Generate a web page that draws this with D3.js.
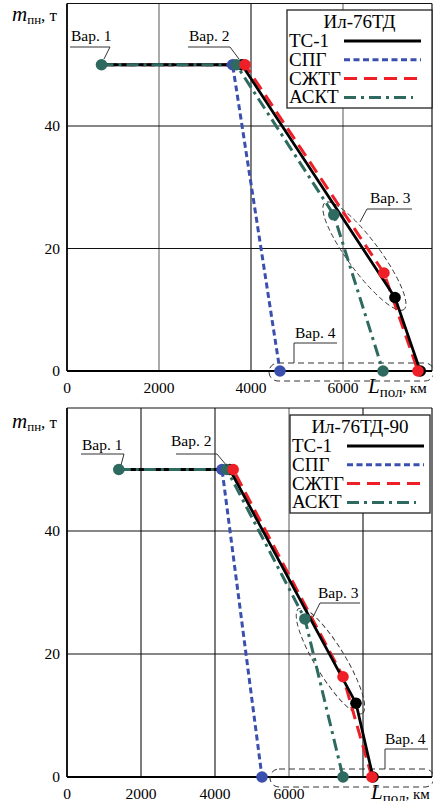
<!DOCTYPE html>
<html lang="ru">
<head>
<meta charset="UTF-8">
<title>Ил-76ТД / Ил-76ТД-90</title>
<script src="https://d3js.org/d3.v7.min.js"></script>
<style>
    body { margin: 0; background: #fff; }
    svg { display: block; }
    svg text { font-family: "Liberation Serif", "Times New Roman", Times, serif; }
</style>
</head>
<body>
<div id="chart"></div>
<script>
// legend names and ticks
const seriesNames = ["ТС-1", "СПГ", "СЖТГ", "АСКТ"];
const yTickValues = [0, 20, 40];
const xTickValues = [0, 2000, 4000, 6000];

// Ил-76ТД: [дальность, км ; нагрузка, т] for Вар. 1..4
const td_tc1   = [[750, 50], [3800, 50], [7130, 12], [7680, 0]];
const td_spg   = [[750, 50], [3600, 50], [4630, 0]];
const td_szhtg = [[750, 50], [3870, 50], [6890, 16], [7630, 0]];
const td_askt  = [[750, 50], [3680, 50], [5800, 25.5], [6870, 0]];

// Ил-76ТД-90
const td90_tc1   = [[1400, 50], [4400, 50], [7810, 12], [8270, 0]];
const td90_spg   = [[1400, 50], [4190, 50], [5270, 0]];
const td90_szhtg = [[1400, 50], [4490, 50], [7460, 16.3], [8240, 0]];
const td90_askt  = [[1400, 50], [4320, 50], [6430, 25.7], [7460, 0]];

const styles = [
    { color: "#000000", dash: null,        width: 2.8 },
    { color: "#3b4fae", dash: "6,3.5",     width: 3 },
    { color: "#ee1f26", dash: "13,7",      width: 3 },
    { color: "#2e6a5f", dash: "12,5,3,5",  width: 3 }
];

const FONT = "Liberation Serif, Times New Roman, serif";

const svg = d3.select("#chart").append("svg")
    .attr("width", 433).attr("height", 801)
    .attr("font-family", FONT);

function drawChart(cfg) {
    const g = svg.append("g");
    const x = d3.scaleLinear().domain(cfg.xDomain).range([67, cfg.xRangeEnd]);
    const y = d3.scaleLinear().domain([0, 60]).range(cfg.yRange);
    const left = 67, right = 432, bottom = y(0), top = y(60);

    // grid
    g.selectAll(".vg").data(cfg.xGrid).enter().append("line")
        .attr("x1", d => x(d)).attr("x2", d => x(d))
        .attr("y1", top).attr("y2", bottom)
        .attr("stroke", d => cfg.darkGrid.includes(d) ? "#111" : "#666").attr("stroke-width", 1.1);
    g.selectAll(".hg").data([20, 40]).enter().append("line")
        .attr("x1", left).attr("x2", right)
        .attr("y1", d => y(d)).attr("y2", d => y(d))
        .attr("stroke", "#111").attr("stroke-width", 1.1);

    // frame
    g.append("line").attr("x1", left).attr("x2", right).attr("y1", top).attr("y2", top)
        .attr("stroke", "#111").attr("stroke-width", 1.2);
    g.append("line").attr("x1", right).attr("x2", right).attr("y1", top).attr("y2", bottom)
        .attr("stroke", "#111").attr("stroke-width", 1.2);
    g.append("line").attr("x1", left).attr("x2", left).attr("y1", top).attr("y2", bottom)
        .attr("stroke", "#000").attr("stroke-width", 1.8);
    g.append("line").attr("x1", left).attr("x2", right).attr("y1", bottom).attr("y2", bottom)
        .attr("stroke", "#000").attr("stroke-width", 1.8);

    // tick labels
    g.selectAll(".xt").data(xTickValues).enter().append("text")
        .attr("font-family", FONT)
        .attr("x", d => x(d)).attr("y", bottom + 22)
        .attr("text-anchor", "middle").attr("font-size", 15.5).text(d => d);
    g.selectAll(".yt").data(yTickValues).enter().append("text")
        .attr("font-family", FONT)
        .attr("x", 60).attr("y", d => y(d) + 5)
        .attr("text-anchor", "end").attr("font-size", 15.5).text(d => d);

    // axis titles
    const yl = g.append("text").attr("font-family", FONT)
        .attr("x", 12).attr("y", top + cfg.yLabelDy).attr("font-size", 21);
    yl.append("tspan").attr("font-style", "italic").text("m");
    yl.append("tspan").attr("font-size", 13).attr("dy", 3).text("пн");
    yl.append("tspan").attr("font-size", 17).attr("dy", -3).text(", т");

    const xl = g.append("text").attr("font-family", FONT)
        .attr("x", cfg.xLabelX).attr("y", bottom + 22).attr("font-size", 21);
    xl.append("tspan").attr("font-style", "italic").text("L");
    xl.append("tspan").attr("font-size", 15).attr("dy", 4).text("пол");
    xl.append("tspan").attr("font-size", 15).attr("dy", -4).text(", км");

    // Вар. 4 rounded box
    const a = cfg.ann;
    g.append("rect")
        .attr("x", a.v4box[0]).attr("y", bottom - 8)
        .attr("width", right - a.v4box[0] + 2).attr("height", 18)
        .attr("rx", 9).attr("ry", 9)
        .attr("fill", "none").attr("stroke", "#333").attr("stroke-width", 1)
        .attr("stroke-dasharray", "6,4");

    // Вар. 3 ellipse, computed from the Вар. 3 points
    const p1 = [x(cfg.series[3][2][0]), y(cfg.series[3][2][1])];
    const p2 = [x(cfg.series[0][2][0]), y(cfg.series[0][2][1])];
    const cx = (p1[0] + p2[0]) / 2, cy = (p1[1] + p2[1]) / 2;
    const ang = Math.atan2(p2[1] - p1[1], p2[0] - p1[0]) * 180 / Math.PI;
    const half = Math.hypot(p2[0] - p1[0], p2[1] - p1[1]) / 2;
    g.append("ellipse")
        .attr("cx", 0).attr("cy", 0).attr("rx", half + cfg.ellPad[0]).attr("ry", cfg.ellPad[1])
        .attr("transform", `translate(${cx},${cy}) rotate(${ang})`)
        .attr("fill", "none").attr("stroke", "#333").attr("stroke-width", 0.9)
        .attr("stroke-dasharray", "5,3");

    // series lines
    const line = d3.line().x(d => x(d[0])).y(d => y(d[1]));
    [1, 2, 0, 3].forEach(i => {
        g.append("path").datum(cfg.series[i])
            .attr("d", line)
            .attr("fill", "none")
            .attr("stroke", styles[i].color)
            .attr("stroke-width", styles[i].width)
            .attr("stroke-dasharray", styles[i].dash);
    });

    // markers (Вар. 1 shared point drawn once)
    [0, 1, 3, 2].forEach(i => {
        g.selectAll(null).data(cfg.series[i].slice(1)).enter().append("circle")
            .attr("cx", d => x(d[0])).attr("cy", d => y(d[1])).attr("r", 5.8)
            .attr("fill", styles[i].color);
    });
    g.append("circle")
        .attr("cx", x(cfg.series[3][0][0])).attr("cy", y(cfg.series[3][0][1])).attr("r", 5.8)
        .attr("fill", styles[3].color);

    // annotation labels
    a.labels.forEach(l => {
        g.append("text").attr("font-family", FONT)
            .attr("x", l.tx).attr("y", l.ty).attr("font-size", 15.5).text(l.text);
        g.append("polyline")
            .attr("points", l.pts.map(p => p.join(",")).join(" "))
            .attr("fill", "none").attr("stroke", "#333").attr("stroke-width", 1);
    });

    // legend
    const lg = cfg.legend;
    g.append("rect").attr("x", lg.x).attr("y", lg.y).attr("width", lg.w).attr("height", lg.h)
        .attr("fill", "#fff").attr("stroke", "#222").attr("stroke-width", 1.3);
    g.append("text").attr("font-family", FONT)
        .attr("x", lg.x + lg.w / 2).attr("y", lg.y + 18)
        .attr("text-anchor", "middle").attr("font-size", 19).text(cfg.title);
    seriesNames.forEach((name, i) => {
        const by = lg.y + 37 + i * 18.8;
        g.append("text").attr("font-family", FONT)
            .attr("x", lg.x + 2).attr("y", by).attr("font-size", 19).text(name);
        g.append("line")
            .attr("x1", lg.x + 57).attr("x2", lg.x + (i === 3 ? 126 : 134))
            .attr("y1", by - 6).attr("y2", by - 6)
            .attr("stroke", styles[i].color).attr("stroke-width", styles[i].width)
            .attr("stroke-dasharray", styles[i].dash);
    });
}

drawChart({
    title: "Ил-76ТД",
    series: [td_tc1, td_spg, td_szhtg, td_askt],
    xDomain: [0, 8000], xRangeEnd: 435,
    yRange: [371, 3.5],
    xGrid: [2000, 4000, 6000], darkGrid: [4000],
    yLabelDy: 17, xLabelX: 368,
    ellPad: [15, 16],
    legend: { x: 287, y: 10, w: 145, h: 98 },
    ann: {
        v4box: [269],
        labels: [
            { text: "Вар. 1", tx: 71, ty: 41, pts: [[70, 47], [110, 47], [104, 59]] },
            { text: "Вар. 2", tx: 189, ty: 41, pts: [[188, 47], [230, 47], [239, 59]] },
            { text: "Вар. 3", tx: 370, ty: 203, pts: [[412, 209], [367, 209], [360, 222]] },
            { text: "Вар. 4", tx: 295, ty: 338, pts: [[337, 343], [294, 343], [294, 363]] }
        ]
    }
});

drawChart({
    title: "Ил-76ТД-90",
    series: [td90_tc1, td90_spg, td90_szhtg, td90_askt],
    xDomain: [0, 10000], xRangeEnd: 437,
    yRange: [777, 408],
    xGrid: [2000, 4000, 6000, 8000], darkGrid: [2000, 4000, 8000],
    yLabelDy: 20, xLabelX: 371,
    ellPad: [12, 15],
    legend: { x: 290, y: 415, w: 140, h: 98 },
    ann: {
        v4box: [270],
        labels: [
            { text: "Вар. 1", tx: 82, ty: 450, pts: [[81, 454], [124, 454], [121, 465]] },
            { text: "Вар. 2", tx: 171, ty: 446, pts: [[176, 454], [217, 454], [227, 466]] },
            { text: "Вар. 3", tx: 318, ty: 598, pts: [[360, 603], [320, 603], [313, 617]] },
            { text: "Вар. 4", tx: 385, ty: 744, pts: [[428, 749], [385, 749], [385, 769]] }
        ]
    }
});
</script>
</body>
</html>
